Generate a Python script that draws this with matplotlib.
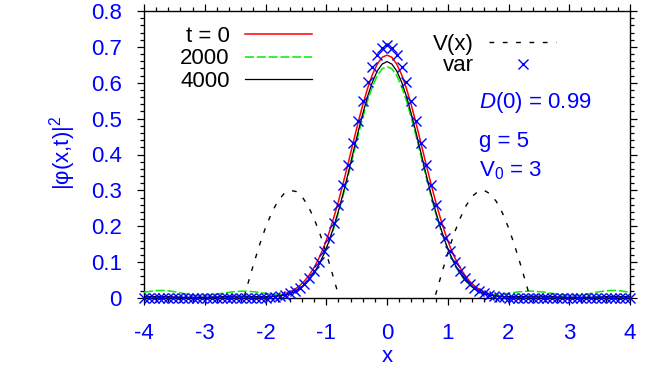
import matplotlib
matplotlib.use("Agg")
import matplotlib.pyplot as plt
from matplotlib.ticker import MultipleLocator
import numpy as np

plt.rcParams['font.family'] = ['Liberation Sans', 'DejaVu Sans']
plt.rcParams['mathtext.fontset'] = 'custom'
plt.rcParams['mathtext.rm'] = 'Liberation Sans'
plt.rcParams['mathtext.it'] = 'Liberation Sans:italic'
plt.rcParams['lines.scale_dashes'] = False

# sample positions (step 0.08 from -4 to 4)
x = np.round(np.arange(-50, 51) * 0.08, 2)

var_vals = [0]*23 + [
    0.001, 0.001, 0.001, 0.002, 0.004, 0.006, 0.009, 0.013, 0.019, 0.028, 0.039, 0.055, 0.074, 0.099,
    0.130, 0.167, 0.210, 0.259, 0.314, 0.372, 0.432, 0.492, 0.549, 0.601, 0.644, 0.677, 0.698,
    0.705,
    0.698, 0.677, 0.644, 0.601, 0.549, 0.492, 0.432, 0.372, 0.314, 0.259, 0.210, 0.167, 0.130,
    0.099, 0.074, 0.055, 0.039, 0.028, 0.019, 0.013, 0.009, 0.006, 0.004, 0.002, 0.001, 0.001, 0.001,
] + [0]*23

t0_vals = [0]*23 + [
    0.001, 0.001, 0.002, 0.003, 0.005, 0.008, 0.012, 0.017, 0.024, 0.034, 0.047, 0.064, 0.085, 0.111,
    0.142, 0.179, 0.222, 0.269, 0.321, 0.375, 0.431, 0.486, 0.538, 0.584, 0.623, 0.652, 0.671,
    0.677,
    0.671, 0.652, 0.623, 0.584, 0.538, 0.486, 0.431, 0.375, 0.321, 0.269, 0.222, 0.179, 0.142,
    0.111, 0.085, 0.064, 0.047, 0.034, 0.024, 0.017, 0.012, 0.008, 0.005, 0.003, 0.002, 0.001, 0.001,
] + [0]*23

t4000_vals = [
    0.003, 0.004, 0.004, 0.004, 0.004, 0.004, 0.003, 0.003, 0.002, 0.002, 0.002, 0.002, 0.002, 0.002,
    0.003, 0.003, 0.004, 0.004, 0.005, 0.005, 0.005, 0.005, 0.004,
    0.004, 0.004, 0.004, 0.004, 0.005, 0.006, 0.008, 0.012, 0.018, 0.026, 0.037, 0.051, 0.070, 0.093,
    0.122, 0.156, 0.197, 0.242, 0.293, 0.347, 0.404, 0.460, 0.513, 0.562, 0.602, 0.633, 0.652,
    0.659,
    0.652, 0.633, 0.602, 0.562, 0.513, 0.460, 0.404, 0.347, 0.293, 0.242, 0.197, 0.156, 0.122,
    0.093, 0.070, 0.051, 0.037, 0.026, 0.018, 0.012, 0.008, 0.006, 0.005, 0.004, 0.004, 0.004, 0.004,
    0.004, 0.005, 0.005, 0.005, 0.005, 0.004, 0.004, 0.003, 0.003, 0.002, 0.002, 0.002, 0.002, 0.002,
    0.002, 0.003, 0.003, 0.004, 0.004, 0.004, 0.004, 0.004, 0.003,
]

t2000_vals = [
    0.016, 0.018, 0.020, 0.021, 0.021, 0.020, 0.018, 0.016, 0.013, 0.010, 0.008, 0.007, 0.007, 0.008,
    0.009, 0.011, 0.013, 0.015, 0.017, 0.018, 0.019, 0.019, 0.018,
    0.017, 0.015, 0.013, 0.011, 0.009, 0.008, 0.010, 0.013, 0.018, 0.026, 0.036, 0.050, 0.068, 0.091,
    0.119, 0.153, 0.192, 0.237, 0.287, 0.340, 0.395, 0.450, 0.502, 0.550, 0.589, 0.620, 0.639,
    0.645,
    0.639, 0.620, 0.589, 0.550, 0.502, 0.450, 0.395, 0.340, 0.287, 0.237, 0.192, 0.153, 0.119,
    0.091, 0.068, 0.050, 0.036, 0.026, 0.018, 0.013, 0.010, 0.008, 0.009, 0.011, 0.013, 0.015, 0.017,
    0.018, 0.019, 0.019, 0.018, 0.017, 0.015, 0.013, 0.011, 0.009, 0.008, 0.007, 0.007, 0.008,
    0.010, 0.013, 0.016, 0.018, 0.020, 0.021, 0.021, 0.020, 0.018, 0.016,
]

# potential V(x): two bumps
v_x = [-2.35, -2.3, -2.2, -2.1, -2.0, -1.9, -1.8, -1.7, -1.6, -1.5, -1.4, -1.3, -1.2, -1.1, -1.0, -0.9, -0.8,
       np.nan,
       0.8, 0.9, 1.0, 1.1, 1.2, 1.3, 1.4, 1.5, 1.6, 1.7, 1.8, 1.9, 2.0, 2.1, 2.2, 2.3, 2.35]
v_vals = [0.004, 0.034, 0.092, 0.147, 0.196, 0.237, 0.269, 0.290, 0.300, 0.297, 0.283, 0.257, 0.221, 0.177,
          0.125, 0.068, 0.009,
          np.nan,
          0.009, 0.068, 0.125, 0.177, 0.221, 0.257, 0.283, 0.297, 0.300, 0.290, 0.269, 0.237, 0.196, 0.147,
          0.092, 0.034, 0.004]

legend1_labels = ['t = 0', '2000', '4000']
legend2_labels = ['V(x)', 'var']
annotations = [r'$\mathit{D}$(0) = 0.99', 'g = 5', r'V$_0$ = 3']

W, H = 664, 380
fig = plt.figure(figsize=(W/100, H/100), dpi=100)
ax = fig.add_axes([144/W, 82/H, 486/W, 287/H])

blue = '#0000ff'
l_red, = ax.plot(x, t0_vals, color='#ff0000', lw=1.1, label=legend1_labels[0], zorder=3)
l_green, = ax.plot(x, t2000_vals, color='#00ee00', lw=1.1, dashes=(6.5, 2.0), label=legend1_labels[1], zorder=3)
l_black, = ax.plot(x, t4000_vals, color='black', lw=0.9, label=legend1_labels[2], zorder=3)
l_v, = ax.plot(v_x, v_vals, color='black', lw=1.0, dashes=(3.4, 6.2), label=legend2_labels[0], zorder=3)
l_var, = ax.plot(x, var_vals, ls='none', marker='x', ms=7, mew=1.0, color=blue,
                 label=legend2_labels[1], zorder=4, clip_on=False)

ax.set_xlim(-4, 4)
ax.set_ylim(0, 0.8)
ax.xaxis.set_minor_locator(MultipleLocator(0.2))
ax.yaxis.set_minor_locator(MultipleLocator(0.02))
ax.set_xticks(np.arange(-4, 5, 1))
ax.set_xticklabels(['-4', '-3', '-2', '-1', '0', '1', '2', '3', '4'])
ax.set_yticks(np.round(np.arange(0, 0.81, 0.1), 1))
ax.set_yticklabels(['0', '0.1', '0.2', '0.3', '0.4', '0.5', '0.6', '0.7', '0.8'])

ax.tick_params(which='both', direction='out', top=True, right=True, color='black', width=0.9)
ax.tick_params(which='major', length=5, labelsize=16, labelcolor=blue)
ax.tick_params(which='minor', length=3)
ax.tick_params(axis='x', which='major', pad=13)
ax.tick_params(axis='y', which='major', pad=11)
for s in ax.spines.values():
    s.set_linewidth(1.0)

ax.set_xlabel('x', fontsize=16, color=blue)
ax.xaxis.label.set_va('baseline')
ax.xaxis.set_label_coords(0.5, (298 - 362) / 287)
ax.set_ylabel('|φ(x,t)|$^2$', fontsize=16, color=blue)
ax.yaxis.label.set_va('baseline')
ax.yaxis.set_label_coords((70 - 144) / 486, (298 - 153) / 287)

leg1 = ax.legend(handles=[l_red, l_green, l_black], loc='upper right',
                 bbox_to_anchor=(312/W, 1 - 26/H), bbox_transform=fig.transFigure,
                 markerfirst=False, frameon=False, fontsize=16, handlelength=3.0,
                 handletextpad=0.7, labelspacing=0.06, borderpad=0, borderaxespad=0)
ax.add_artist(leg1)
leg2 = ax.legend(handles=[l_v, l_var], loc='upper right',
                 bbox_to_anchor=(556/W, 1 - 34/H), bbox_transform=fig.transFigure,
                 markerfirst=False, frameon=False, fontsize=16, handlelength=3.0,
                 handletextpad=0.7, labelspacing=0.02, borderpad=0, borderaxespad=0, numpoints=1)

ann_y = [0.530, 0.422, 0.338]
for txt, yy in zip(annotations, ann_y):
    ax.text(1.52, yy, txt, color=blue, fontsize=16, ha='left', va='baseline')

fig.savefig('out.png', dpi=100)
